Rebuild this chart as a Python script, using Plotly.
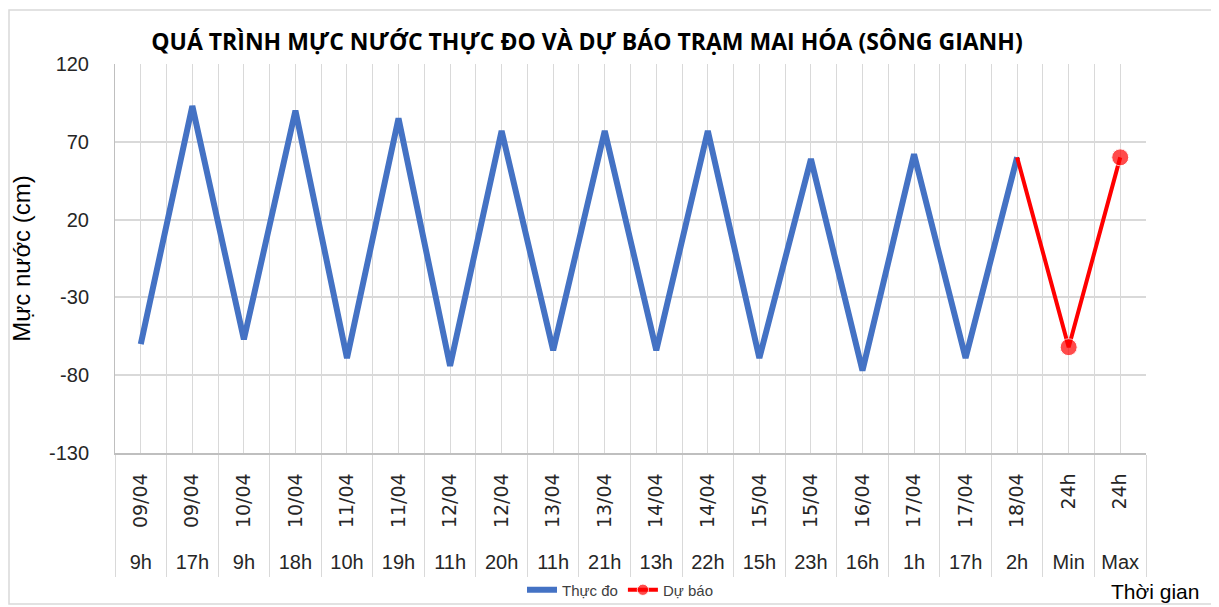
import plotly.graph_objects as go

dates = ["09/04", "09/04", "10/04", "10/04", "11/04", "11/04", "12/04", "12/04", "13/04", "13/04",
         "14/04", "14/04", "15/04", "15/04", "16/04", "17/04", "17/04", "18/04", "24h", "24h"]
hours = ["9h", "17h", "9h", "18h", "10h", "19h", "11h", "20h", "11h", "21h",
         "13h", "22h", "15h", "23h", "16h", "1h", "17h", "2h", "Min", "Max"]
observed = [-60, 93, -57, 90, -69, 85, -74, 77, -64, 77,
            -64, 77, -69, 59, -77, 62, -69, 60]
forecast_start = 17
forecast = [60, -62, 60]
y_ticks = [-130, -80, -30, 20, 70, 120]

pos = list(range(len(dates)))
x_obs = pos[:len(observed)]
x_fc = pos[forecast_start:forecast_start + len(forecast)]

# page body margin offset in the browser
OFF = 8
W, H = 1219 - OFF, 607 - OFF
PL, PR, PT, PB = 115, 1146, 64, 548   # paper box in window pixels
PW, PH = PR - PL, PB - PT

def fx(px):
    return (px - PL) / PW

def fy(py):
    return (PB - py) / PH

FONT = "Arial, Liberation Sans, sans-serif"
GRID = "#d9d9d9"

fig = go.Figure()
fig.add_trace(go.Scatter(
    x=x_obs, y=observed, mode="lines", name="Thực đo",
    line=dict(color="#4472C4", width=6), xaxis="x", yaxis="y"))
fig.add_trace(go.Scatter(
    x=x_fc, y=forecast, mode="lines+markers", name="Dự báo",
    line=dict(color="#FF0000", width=4),
    marker=dict(color="#FF0000", size=[0, 17, 17]), xaxis="x", yaxis="y"))
# invisible trace for second (hours) label axis
fig.add_trace(go.Scatter(x=pos, y=[None] * len(pos), xaxis="x2", yaxis="y",
                         showlegend=False, hoverinfo="skip"))

fig.update_layout(
    width=W, height=H,
    paper_bgcolor="white", plot_bgcolor="white",
    margin=dict(l=PL - OFF, r=W - (PR - OFF), t=PT - OFF, b=H - (PB - OFF), autoexpand=False),
    font=dict(family=FONT, color="#404040"),
    title=dict(text="<b>QUÁ TRÌNH MỰC NƯỚC THỰC ĐO VÀ DỰ BÁO TRẠM MAI HÓA (SÔNG GIANH)</b>",
               x=(587 - OFF) / W, xanchor="center", xref="container",
               y=1 - (42 - OFF) / H, yanchor="middle", yref="container",
               font=dict(family="Open Sans, Arial, sans-serif", size=23, color="black")),
    xaxis=dict(
        range=[-0.5, len(dates) - 0.5], tickmode="array", tickvals=pos, ticktext=dates,
        tickangle=-90, ticks="", ticklabelstandoff=11, automargin=False,
        tickfont=dict(family="DejaVu Sans, Arial", size=19, color="#262626"),
        showgrid=True, gridcolor=GRID, gridwidth=1,
        showline=True, linecolor="#bfbfbf", linewidth=1.5,
        zeroline=False, anchor="y",
        minor=dict(tickmode="linear", tick0=0.5, dtick=1, showgrid=True, gridcolor=GRID,
                   ticks="outside", ticklen=122, tickcolor=GRID, tickwidth=1),
    ),
    xaxis2=dict(
        matches="x", overlaying="x", anchor="free", position=0, side="bottom",
        tickmode="array", tickvals=pos, ticktext=hours, ticks="", automargin=False,
        tickfont=dict(size=20, color="#262626"),
        showgrid=False, showline=False, zeroline=False,
    ),
    yaxis=dict(
        domain=[fy(453), 1], range=[y_ticks[0], y_ticks[-1]],
        tickmode="array", tickvals=y_ticks, ticktext=[str(v) for v in y_ticks],
        tickfont=dict(size=20, color="#262626"), ticks="", ticklabelstandoff=21, automargin=False,
        showgrid=True, gridcolor=GRID, gridwidth=1.5,
        showline=True, linecolor="#bfbfbf", linewidth=1,
        zeroline=False,
        title=dict(text="Mực nước (cm)", font=dict(family="Arial, sans-serif", size=24, color="black"),
                   standoff=16),
    ),
    legend=dict(orientation="h", x=fx(620), xanchor="center", y=fy(590), yanchor="middle",
                font=dict(size=15, color="#404040"), bgcolor="rgba(0,0,0,0)"),
    annotations=[dict(text="Thời gian", xref="paper", yref="paper",
                      x=fx(1155), y=fy(591),
                      xanchor="center", yanchor="middle", showarrow=False,
                      font=dict(size=21, color="black"))],
    shapes=[dict(type="rect", xref="paper", yref="paper",
                 x0=fx(9), x1=fx(1214), y0=fy(604), y1=fy(10),
                 line=dict(color="#d9d9d9", width=1.5), layer="below")],
)

fig.write_html("out.html")
